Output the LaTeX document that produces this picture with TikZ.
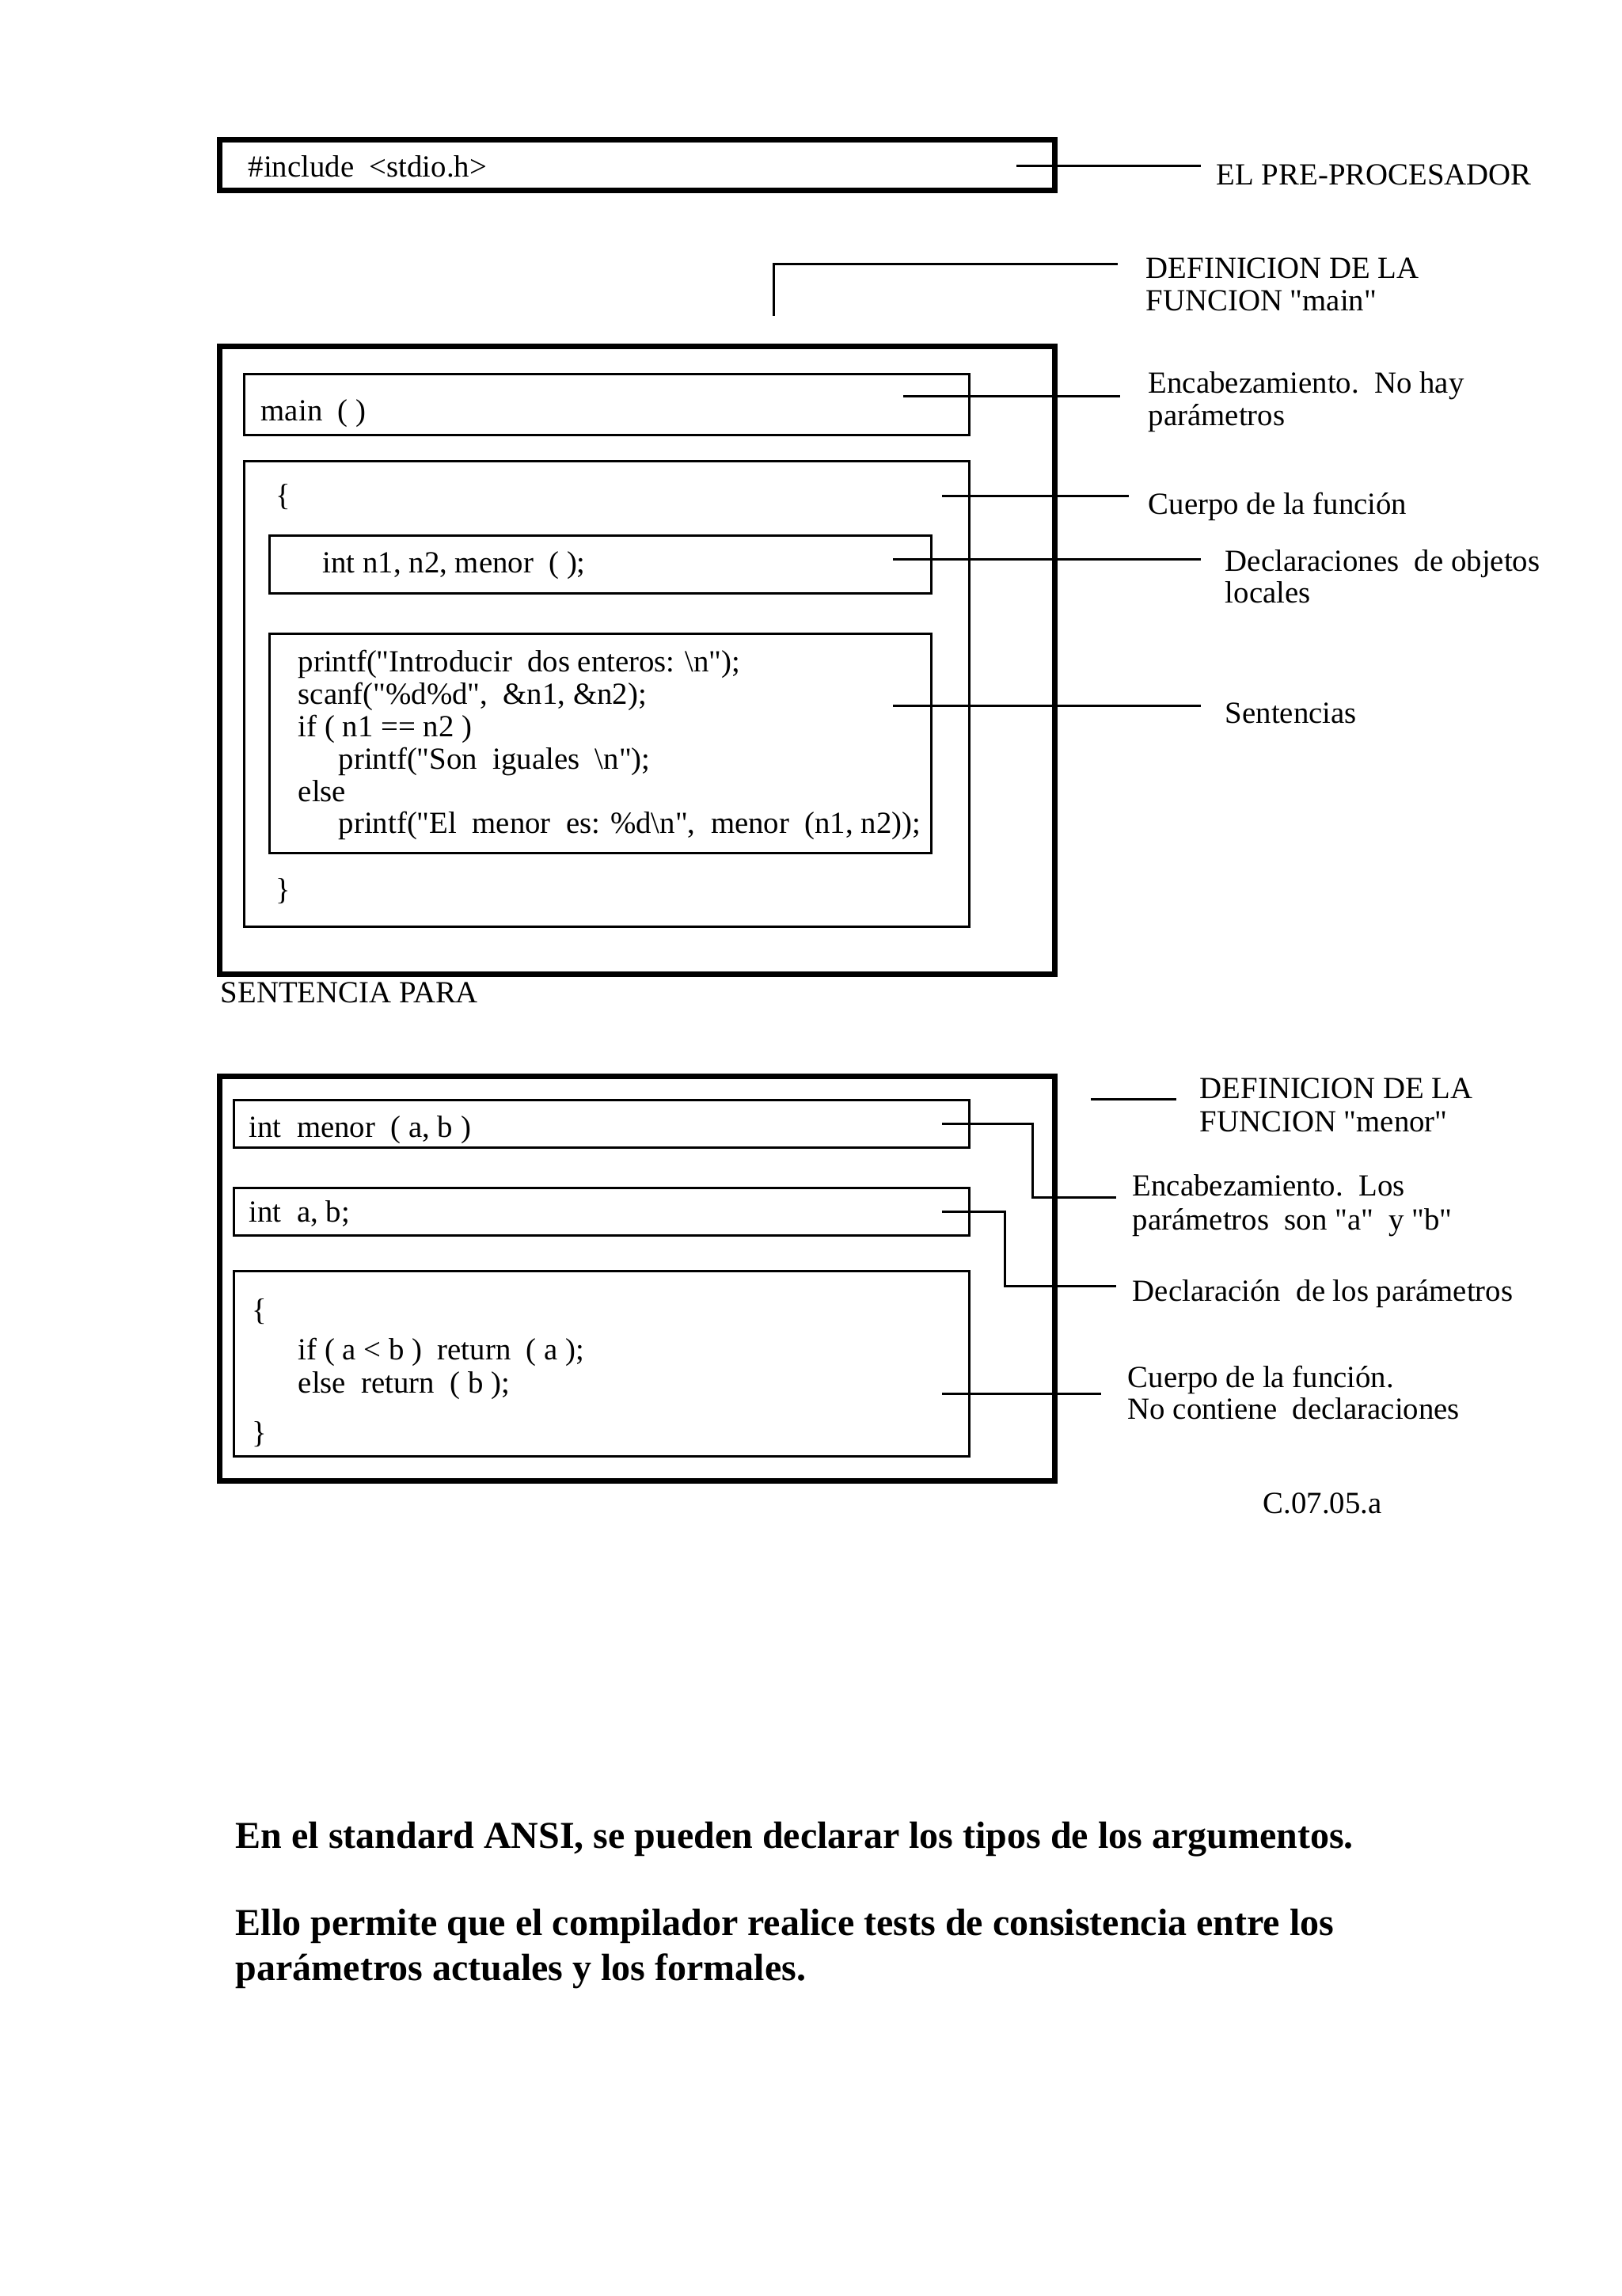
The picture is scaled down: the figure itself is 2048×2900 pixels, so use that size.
\documentclass[tikz,border=0pt]{standalone}
\usepackage{fontspec}
\setmainfont{Liberation Serif}[Ligatures=TeXOff]
\newcommand{\dquo}{"}
\begin{document}
\begin{tikzpicture}[x=0.25pt,y=-0.25pt,
  txt/.style={anchor=base west,inner sep=0pt,font=\fontsize{9.7}{11}\selectfont},
  boldtxt/.style={anchor=base west,inner sep=0pt,font=\fontsize{12}{14}\selectfont\bfseries},
  thickbox/.style={draw,line width=1.75pt},
  thinbox/.style={draw,line width=0.75pt},
  conn/.style={draw,line width=0.75pt}]
\useasboundingbox (0,0) rectangle (2048,2900);

% ---------- boxes ----------
\draw[thickbox] (277.5,176.5) rectangle (1332,240.5);
\draw[thickbox] (277.5,437.5) rectangle (1332,1230.5);
\draw[thinbox] (308.5,472) rectangle (1224,549.5);
\draw[thinbox] (308.5,582) rectangle (1224,1170);
\draw[thinbox] (340,676) rectangle (1176,749);
\draw[thinbox] (340,800) rectangle (1176,1077);
\draw[thickbox] (277.5,1359.5) rectangle (1332,1870);
\draw[thinbox] (295,1389) rectangle (1224,1449);
\draw[thinbox] (295,1500) rectangle (1224,1560);
\draw[thinbox] (295,1605) rectangle (1224,1839);

% ---------- texts inside boxes ----------
\node[txt] (inc) at (313,224) {\#include\ \ <stdio.h>};
\node[txt] (mainh) at (329,531) {main\ \ ( )};
\node[txt] (ob) at (348,638) {\{};
\node[txt] (decl) at (407,723) {int\ n1, n2, menor\ \ ( );};
\node[txt] (s1) at (376,848) {printf(\dquo Introducir\ \ dos enteros: \textbackslash n\dquo);};
\node[txt] (s2) at (376,889) {scanf(\dquo\%d\%d\dquo,\ \ \&n1, \&n2);};
\node[txt] (s3) at (376,930) {if ( n1 == n2 )};
\node[txt] (s4) at (427,971) {printf(\dquo Son\ \ iguales\ \ \textbackslash n\dquo);};
\node[txt] (s5) at (376,1012) {else};
\node[txt] (s6) at (427,1052) {printf(\dquo El\ \ menor\ \ es: \%d\textbackslash n\dquo,\ \ menor\ \ (n1, n2));};
\node[txt] (cb) at (348,1136) {\}};
\node[txt] (para) at (278,1266) {SENTENCIA PARA};

\node[txt] (menh) at (314,1436) {int\ \ menor\ \ ( a, b )};
\node[txt] (menab) at (314,1543) {int\ \ a, b;};
\node[txt] (mob) at (318,1667) {\{};
\node[txt] (m1) at (376,1717) {if ( a < b )\ \ return\ \ ( a );};
\node[txt] (m2) at (376,1759) {else\ \ return\ \ ( b );};
\node[txt] (mcb) at (318,1822) {\}};

% ---------- labels ----------
\node[txt] (lpre) at (1536,234) {EL PRE-PROCESADOR};
\node[txt] (ldm1) at (1447,351) {DEFINICION DE LA};
\node[txt] (ldm2) at (1447,392) {FUNCION \dquo main\dquo};
\node[txt] (lenc1) at (1450,496) {Encabezamiento.\ \ No hay};
\node[txt] (lenc2) at (1450,537) {parámetros};
\node[txt] (lcue) at (1450,649) {Cuerpo de la función};
\node[txt] (ldec1) at (1547,721) {Declaraciones\ \ de objetos};
\node[txt] (ldec2) at (1547,761) {locales};
\node[txt] (lsen) at (1547,913) {Sentencias};
\node[txt] (ldn1) at (1515,1387) {DEFINICION DE LA};
\node[txt] (ldn2) at (1515,1429) {FUNCION \dquo menor\dquo};
\node[txt] (lme1) at (1430,1510) {Encabezamiento.\ \ Los};
\node[txt] (lme2) at (1430,1553) {parámetros\ \ son \dquo a\dquo\ \ y \dquo b\dquo};
\node[txt] (lpar) at (1430,1643) {Declaración\ \ de los parámetros};
\node[txt] (lmc1) at (1424,1752) {Cuerpo de la función.};
\node[txt] (lmc2) at (1424,1792) {No contiene\ \ declaraciones};
\node[txt] (code) at (1595,1911) {C.07.05.a};

\node[boldtxt] (b1) at (297,2334) {En el standard ANSI, se pueden declarar los tipos de los argumentos.};
\node[boldtxt] (b2) at (297,2444) {Ello permite que el compilador realice tests de consistencia entre los};
\node[boldtxt] (b3) at (297,2501) {parámetros actuales y los formales.};

% ---------- connectors ----------
\coordinate (pa) at (1284,210); \coordinate (pb) at (1517,210);
\draw[conn] (pa) -- (pb);
\coordinate (dma) at (977,399); \coordinate (dmb) at (1412,333);
\draw[conn] (dma) |- (dmb);
\coordinate (ea) at (1141,500); \coordinate (eb) at (1415,500);
\draw[conn] (ea) -- (eb);
\coordinate (ca) at (1190,626); \coordinate (cb2) at (1426,626);
\draw[conn] (ca) -- (cb2);
\coordinate (da) at (1128,706); \coordinate (db) at (1517,706);
\draw[conn] (da) -- (db);
\coordinate (sa) at (1128,891); \coordinate (sb) at (1517,891);
\draw[conn] (sa) -- (sb);
\coordinate (dna) at (1378,1388); \coordinate (dnb) at (1486,1388);
\draw[conn] (dna) -- (dnb);
\coordinate (h1a) at (1190,1419); \coordinate (h1b) at (1410,1512);
\draw[conn] (h1a) -- (1304,1419) -- (1304,1512) -- (h1b);
\coordinate (h2a) at (1190,1530); \coordinate (h2b) at (1410,1624);
\draw[conn] (h2a) -- (1269,1530) -- (1269,1624) -- (h2b);
\coordinate (h3a) at (1190,1760); \coordinate (h3b) at (1391,1760);
\draw[conn] (h3a) -- (h3b);
\end{tikzpicture}
\end{document}
